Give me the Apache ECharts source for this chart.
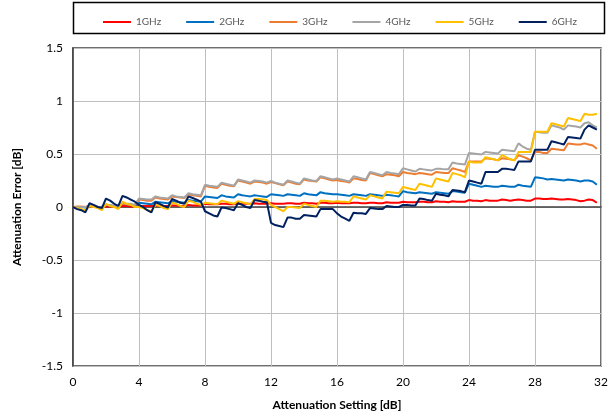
<!DOCTYPE html>
<html><head><meta charset="utf-8">
<script src="https://cdn.jsdelivr.net/npm/echarts@6/dist/echarts.min.js"></script>
<style>html,body{margin:0;padding:0;background:#fff}#c{width:616px;height:420px}</style>
</head><body><div id="c"></div>
<script>
var settings = [
0,0.25,0.5,0.75, 1,1.25,1.5,1.75, 2,2.25,2.5,2.75, 3,3.25,3.5,3.75,
4,4.25,4.5,4.75, 5,5.25,5.5,5.75, 6,6.25,6.5,6.75, 7,7.25,7.5,7.75,
8,8.25,8.5,8.75, 9,9.25,9.5,9.75, 10,10.25,10.5,10.75, 11,11.25,11.5,11.75,
12,12.25,12.5,12.75, 13,13.25,13.5,13.75, 14,14.25,14.5,14.75, 15,15.25,15.5,15.75,
16,16.25,16.5,16.75, 17,17.25,17.5,17.75, 18,18.25,18.5,18.75, 19,19.25,19.5,19.75,
20,20.25,20.5,20.75, 21,21.25,21.5,21.75, 22,22.25,22.5,22.75, 23,23.25,23.5,23.75,
24,24.25,24.5,24.75, 25,25.25,25.5,25.75, 26,26.25,26.5,26.75, 27,27.25,27.5,27.75,
28,28.25,28.5,28.75, 29,29.25,29.5,29.75, 30,30.25,30.5,30.75, 31,31.25,31.5,31.75
];
var seriesNames = ['1GHz','2GHz','3GHz','4GHz','5GHz','6GHz'];
var err1GHz = [
0,0,0,0, 0.005,0.005,0,0, 0.005,0.005,0.005,0, 0.01,0.01,0.005,0.005,
0.01,0.01,0.01,0.01, 0.015,0.01,0.01,0.01, 0.015,0.015,0.01,0.01, 0.02,0.015,0.015,0.015,
0.03,0.025,0.025,0.025, 0.03,0.03,0.025,0.025, 0.035,0.03,0.03,0.03, 0.035,0.03,0.03,0.03,
0.035,0.03,0.03,0.03, 0.035,0.035,0.03,0.03, 0.04,0.035,0.035,0.03, 0.04,0.04,0.035,0.035,
0.04,0.035,0.035,0.035, 0.04,0.04,0.035,0.035, 0.04,0.04,0.035,0.035, 0.045,0.04,0.04,0.04,
0.05,0.045,0.045,0.045, 0.05,0.05,0.045,0.045, 0.055,0.05,0.05,0.045, 0.055,0.05,0.05,0.05,
0.065,0.06,0.06,0.055, 0.065,0.06,0.06,0.06, 0.07,0.065,0.06,0.065, 0.07,0.065,0.06,0.06,
0.08,0.08,0.075,0.075, 0.08,0.075,0.07,0.07, 0.075,0.07,0.065,0.055, 0.06,0.07,0.065,0.04
];
var err2GHz = [
0,0,0,-0.005, 0.01,0.005,0,0, 0.02,0.015,0.01,0.005, 0.03,0.025,0.02,0.015,
0.04,0.035,0.03,0.025, 0.05,0.045,0.04,0.035, 0.055,0.05,0.045,0.04, 0.065,0.06,0.055,0.05,
0.10,0.095,0.09,0.085, 0.11,0.10,0.095,0.09, 0.12,0.11,0.105,0.10, 0.11,0.105,0.10,0.095,
0.12,0.115,0.11,0.105, 0.12,0.115,0.11,0.105, 0.13,0.12,0.115,0.11, 0.14,0.13,0.125,0.12,
0.12,0.115,0.11,0.105, 0.12,0.115,0.11,0.105, 0.12,0.115,0.11,0.105, 0.115,0.11,0.105,0.10,
0.15,0.14,0.135,0.13, 0.14,0.135,0.13,0.125, 0.14,0.135,0.13,0.125, 0.15,0.145,0.14,0.135,
0.22,0.21,0.20,0.19, 0.20,0.195,0.19,0.19, 0.20,0.195,0.19,0.19, 0.21,0.20,0.195,0.19,
0.28,0.275,0.27,0.26, 0.265,0.26,0.255,0.25, 0.26,0.255,0.25,0.24, 0.25,0.25,0.24,0.21
];
var err3GHz = [
0,0.005,0.005,0, 0.01,0.005,0,0, 0.02,0.015,0.01,0.005, 0.03,0.025,0.02,0.02,
0.07,0.065,0.06,0.06, 0.09,0.08,0.075,0.07, 0.10,0.095,0.09,0.085, 0.12,0.11,0.105,0.10,
0.20,0.19,0.185,0.18, 0.22,0.21,0.20,0.195, 0.25,0.24,0.23,0.22, 0.24,0.235,0.23,0.22,
0.235,0.225,0.215,0.205, 0.24,0.23,0.22,0.215, 0.26,0.25,0.245,0.24, 0.28,0.27,0.26,0.25,
0.255,0.245,0.24,0.23, 0.27,0.265,0.255,0.25, 0.32,0.31,0.30,0.29, 0.31,0.305,0.30,0.29,
0.33,0.32,0.315,0.31, 0.32,0.315,0.31,0.305, 0.33,0.325,0.32,0.32, 0.365,0.355,0.345,0.33,
0.43,0.43,0.43,0.43, 0.46,0.455,0.45,0.44, 0.46,0.455,0.45,0.44, 0.49,0.475,0.46,0.44,
0.52,0.52,0.51,0.51, 0.55,0.545,0.54,0.535, 0.60,0.595,0.59,0.59, 0.60,0.59,0.58,0.55
];
var err4GHz = [
0,0,0,0, 0.01,0.01,0,0, 0.02,0.02,0.01,0.01, 0.04,0.03,0.03,0.02,
0.08,0.075,0.07,0.07, 0.10,0.09,0.085,0.08, 0.11,0.10,0.095,0.09, 0.13,0.12,0.115,0.11,
0.21,0.20,0.195,0.19, 0.23,0.22,0.21,0.20, 0.26,0.25,0.24,0.23, 0.25,0.245,0.24,0.23,
0.245,0.23,0.22,0.21, 0.25,0.24,0.23,0.22, 0.27,0.26,0.25,0.245, 0.29,0.28,0.27,0.26,
0.27,0.26,0.25,0.24, 0.29,0.28,0.27,0.26, 0.33,0.32,0.31,0.30, 0.33,0.32,0.315,0.31,
0.365,0.355,0.345,0.335, 0.36,0.355,0.35,0.345, 0.36,0.36,0.355,0.355, 0.42,0.41,0.405,0.40,
0.51,0.505,0.50,0.495, 0.52,0.515,0.51,0.505, 0.54,0.535,0.53,0.525, 0.60,0.57,0.55,0.54,
0.71,0.705,0.70,0.70, 0.77,0.76,0.75,0.73, 0.77,0.765,0.76,0.75, 0.79,0.80,0.77,0.75
];
var err5GHz = [
0,-0.01,-0.02,-0.03, 0.01,0,-0.01,-0.03, 0.03,0.01,0,-0.02, 0.05,0.03,0.02,0,
0,-0.01,-0.03,-0.04, 0.02,0.01,-0.01,-0.02, 0.04,0.03,0.01,0, 0.06,0.05,0.03,0.02,
0.04,0.035,0.03,0.025, 0.06,0.05,0.04,0.03, 0.055,0.045,0.035,0.025, 0.075,0.075,0.07,0.065,
0.02,0,-0.02,-0.04, 0,0,-0.005,-0.01, 0.03,0.02,0.01,0, 0.06,0.06,0.055,0.05,
0.055,0.05,0.05,0.045, 0.10,0.09,0.08,0.07, 0.11,0.10,0.09,0.08, 0.145,0.14,0.135,0.13,
0.19,0.18,0.17,0.16, 0.22,0.21,0.20,0.19, 0.27,0.26,0.25,0.24, 0.32,0.31,0.30,0.28,
0.43,0.42,0.42,0.42, 0.47,0.46,0.45,0.44, 0.49,0.47,0.45,0.44, 0.52,0.52,0.52,0.52,
0.71,0.71,0.71,0.71, 0.79,0.78,0.77,0.76, 0.84,0.83,0.82,0.81, 0.88,0.87,0.87,0.88
];
var err6GHz = [
0,-0.02,-0.03,-0.05, 0.035,0.02,0,-0.01, 0.08,0.06,0.03,0.01, 0.105,0.09,0.07,0.05,
0.02,0,-0.03,-0.05, 0.045,0.03,0.01,-0.005, 0.075,0.06,0.04,0.03, 0.10,0.085,0.07,0.05,
-0.04,-0.06,-0.08,-0.09, -0.005,-0.01,-0.02,-0.03, 0.035,0.02,0,-0.01, 0.065,0.06,0.05,0.045,
-0.15,-0.17,-0.18,-0.19, -0.10,-0.10,-0.11,-0.11, -0.075,-0.08,-0.085,-0.09, -0.02,-0.02,-0.02,-0.02,
-0.06,-0.09,-0.11,-0.13, -0.055,-0.06,-0.06,-0.065, -0.01,-0.015,-0.02,-0.02, 0.01,0.005,0,0,
0.02,0.02,0.015,0.015, 0.08,0.075,0.065,0.06, 0.125,0.115,0.11,0.10, 0.16,0.155,0.15,0.14,
0.25,0.24,0.23,0.22, 0.33,0.33,0.33,0.33, 0.36,0.36,0.355,0.35, 0.43,0.43,0.43,0.43,
0.54,0.54,0.54,0.54, 0.62,0.61,0.60,0.59, 0.66,0.655,0.65,0.645, 0.73,0.77,0.75,0.73
];
var allErr = [err1GHz, err2GHz, err3GHz, err4GHz, err5GHz, err6GHz];
var colors = ['#FF0000','#0070C0','#ED7D31','#A5A5A5','#FFC000','#002060'];

var chart = echarts.init(document.getElementById('c'), null, {renderer:'canvas'});
var font = 'Lato, "Liberation Sans", sans-serif';
var series = seriesNames.map(function(n, i){
  return {
    name: n, type: 'line', showSymbol: false, symbol: 'none',
    data: settings.map(function(x, k){ return [x, allErr[i][k]]; }),
    lineStyle: {width: 2, color: colors[i]},
    itemStyle: {color: colors[i]},
    animation: false, z: 2 + i
  };
});
chart.setOption({
  animation: false,
  color: colors,
  graphic: [{type:'rect', shape:{x:73.5, y:2.5, width:531, height:31}, style:{fill:'none', stroke:'#000', lineWidth:1.5}, z: 0}],
  legend: {
    data: seriesNames, left: 98, top: 12, icon: 'rect', itemWidth: 28, itemHeight: 2, itemGap: 25,
    textStyle: {fontFamily: font, fontSize: 10, color: '#595959'}
  },
  grid: {left: 73, right: 15, top: 48, bottom: 54, show: true, borderColor: '#404040', borderWidth: 1.5},
  xAxis: {
    type: 'value', min: 0, max: 32, interval: 4,
    name: 'Attenuation Setting [dB]', nameLocation: 'middle', nameGap: 33,
    nameTextStyle: {fontFamily: font, fontSize: 12, fontWeight: 'bold', color: '#000'},
    axisLine: {show: true, lineStyle: {color: '#404040', width: 1.5}},
    axisTick: {show: false},
    axisLabel: {fontFamily: font, fontSize: 12, color: '#000', margin: 10},
    splitLine: {show: true, lineStyle: {color: '#BFBFBF', width: 1}}
  },
  yAxis: {
    type: 'value', min: -1.5, max: 1.5, interval: 0.5,
    name: 'Attenuation Error [dB]', nameLocation: 'middle', nameGap: 50, nameRotate: 90,
    nameTextStyle: {fontFamily: font, fontSize: 12, fontWeight: 'bold', color: '#000'},
    axisLine: {show: true, onZero: false, lineStyle: {color: '#404040', width: 1.5}},
    axisTick: {show: false},
    axisLabel: {fontFamily: font, fontSize: 12, color: '#000', margin: 10},
    splitLine: {show: true, lineStyle: {color: '#BFBFBF', width: 1}}
  },
  series: series
});
</script>
</body></html>
